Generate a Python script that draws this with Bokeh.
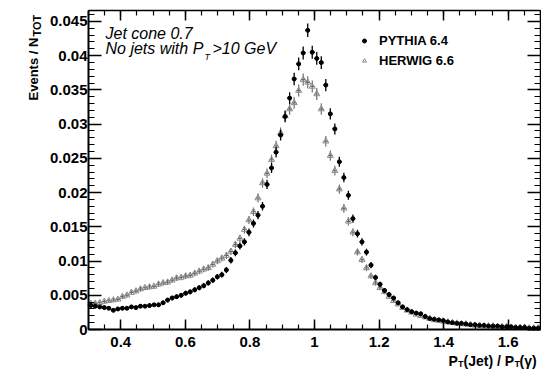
import numpy as np
from bokeh.plotting import figure
from bokeh.models import (ColumnDataSource, FixedTicker, LinearAxis, Range1d, Label,
                          Legend, LegendItem, CustomJSTickFormatter)
from bokeh.embed import file_html
from bokeh.resources import INLINE

# ---------------- data ----------------
HIST_LO, HIST_HI = 0.3, 1.7          # histogram range, 100 bins
PYTHIA = [
    0.0035, 0.0034, 0.0033, 0.0032, 0.0031, 0.0028, 0.0030, 0.0031, 0.0031, 0.0033,
    0.0032, 0.0034, 0.0034, 0.0035, 0.0036, 0.0036, 0.0039, 0.0043, 0.0046, 0.0048,
    0.0050, 0.0053, 0.0055, 0.0058, 0.0061, 0.0064, 0.0068, 0.0072, 0.0077, 0.0080,
    0.0087, 0.0101, 0.0112, 0.0122, 0.0128, 0.0142, 0.0155, 0.0167, 0.0180, 0.0212,
    0.0236, 0.0259, 0.0284, 0.0311, 0.0338, 0.0366, 0.0388, 0.0404, 0.0437, 0.0405,
    0.0396, 0.0390, 0.0357, 0.0315, 0.0293, 0.0245, 0.0222, 0.0196, 0.0162, 0.0140,
    0.0128, 0.0113, 0.0094, 0.0076, 0.0066, 0.0057, 0.0051, 0.0046, 0.0039, 0.0033,
    0.0029, 0.0026, 0.0024, 0.0023, 0.0019, 0.0016, 0.0015, 0.0014, 0.0013, 0.0011,
    0.0010, 0.0009, 0.0009, 0.0008, 0.0007, 0.0007, 0.0006, 0.0006, 0.0005, 0.0005,
    0.0005, 0.0004, 0.0004, 0.0004, 0.0003, 0.0003, 0.0003, 0.0002, 0.0002, 0.0002,
]
HERWIG = [
    0.0038, 0.0038, 0.0039, 0.0041, 0.0042, 0.0043, 0.0044, 0.0048, 0.0050, 0.0054,
    0.0056, 0.0059, 0.0061, 0.0062, 0.0063, 0.0066, 0.0068, 0.0069, 0.0072, 0.0075,
    0.0076, 0.0078, 0.0079, 0.0082, 0.0085, 0.0088, 0.0090, 0.0095, 0.0100, 0.0104,
    0.0108, 0.0114, 0.0124, 0.0133, 0.0146, 0.0160, 0.0172, 0.0192, 0.0214, 0.0228,
    0.0248, 0.0268, 0.0287, 0.0312, 0.0322, 0.0331, 0.0349, 0.0365, 0.0361, 0.0355,
    0.0344, 0.0322, 0.0275, 0.0254, 0.0232, 0.0205, 0.0177, 0.0158, 0.0142, 0.0113,
    0.0102, 0.0090, 0.0078, 0.0068, 0.0061, 0.0055, 0.0048, 0.0042, 0.0037, 0.0032,
    0.0028, 0.0025, 0.0022, 0.0020, 0.0018, 0.0016, 0.0014, 0.0013, 0.0012, 0.0011,
    0.0010, 0.0009, 0.0008, 0.0008, 0.0007, 0.0006, 0.0006, 0.0005, 0.0005, 0.0005,
    0.0004, 0.0004, 0.0004, 0.0003, 0.0003, 0.0003, 0.0003, 0.0002, 0.0002, 0.0002,
]
N_EVENTS_PYTHIA = 45000   # effective statistics for the Poisson error bars
N_EVENTS_HERWIG = 45000
SERIES_NAMES = ["PYTHIA 6.4", "HERWIG 6.6"]
X_TICKS = [0.4, 0.6, 0.8, 1.0, 1.2, 1.4, 1.6]
Y_TICKS = [0, 0.005, 0.01, 0.015, 0.02, 0.025, 0.03, 0.035, 0.04, 0.045]
Y_MAX = 0.0466

# ---------------- layout constants (pixels) ----------------
W, H = 541, 371
BOX_L, BOX_R, BOX_T, BOX_B = 88, 540, 10, 329   # where the axes box sits

kx = (BOX_R - BOX_L) / (HIST_HI - HIST_LO)
ky = (BOX_B - BOX_T) / Y_MAX
x_range = Range1d(HIST_LO - BOX_L / kx, HIST_HI + (W - BOX_R) / kx)
y_range = Range1d(-(H - BOX_B) / ky, Y_MAX + BOX_T / ky)

# ---------------- derived columns ----------------
edges = np.linspace(HIST_LO, HIST_HI, len(PYTHIA) + 1)
centers = 0.5 * (edges[:-1] + edges[1:])


def make_source(vals, n_events):
    y = np.array(vals)
    err = np.sqrt(y / n_events)
    return ColumnDataSource(dict(x=centers, y=y, lo=y - err, hi=y + err,
                                 xl=edges[:-1], xr=edges[1:]))


src_p = make_source(PYTHIA, N_EVENTS_PYTHIA)
src_h = make_source(HERWIG, N_EVENTS_HERWIG)

FONT = "Liberation Sans"

p = figure(width=W, height=H, x_range=x_range, y_range=y_range,
           output_backend="svg", toolbar_location=None,
           x_axis_location=None, y_axis_location=None,
           min_border_left=0, min_border_right=0, min_border_top=0, min_border_bottom=0)
p.xgrid.visible = False
p.ygrid.visible = False
p.outline_line_color = None
p.background_fill_color = "white"
p.border_fill_color = "white"

fmt = CustomJSTickFormatter(code="return parseFloat(tick.toFixed(4)).toString();")
blank = CustomJSTickFormatter(code="return '';")
x_minor = [round(v, 3) for v in np.arange(HIST_LO, HIST_HI + 1e-9, 0.05)]
y_minor = [round(v, 4) for v in np.arange(0, Y_MAX, 0.001)]


def make_axis(ticks, minor, tick_len, loc, bounds, show_labels, line_w, standoff=2):
    ax = LinearAxis(fixed_location=loc, bounds=bounds)
    ax.ticker = FixedTicker(ticks=ticks, minor_ticks=minor)
    ax.major_tick_in = tick_len
    ax.major_tick_out = 0
    ax.minor_tick_in = tick_len // 2
    ax.minor_tick_out = 0
    ax.axis_line_width = line_w
    ax.axis_line_color = "black"
    ax.major_tick_line_width = 1.5
    ax.minor_tick_line_width = 1.2
    ax.major_tick_line_color = "black"
    ax.minor_tick_line_color = "black"
    ax.axis_label = None
    if show_labels:
        ax.formatter = fmt
        ax.major_label_text_font = FONT
        ax.major_label_text_font_size = "15px"
        ax.major_label_text_font_style = "bold"
        ax.major_label_text_color = "black"
        ax.major_label_standoff = standoff
    else:
        ax.formatter = blank
    return ax


p.add_layout(make_axis(X_TICKS, x_minor, 10, 0, (HIST_LO, HIST_HI), True, 2, 7), "below")
p.add_layout(make_axis(Y_TICKS, y_minor, 13, HIST_LO, (0, Y_MAX), True, 2, 1), "left")
p.add_layout(make_axis(X_TICKS, x_minor, 10, Y_MAX, (HIST_LO, HIST_HI), False, 1.5), "above")
p.add_layout(make_axis(Y_TICKS, y_minor, 13, HIST_HI, (0, Y_MAX), False, 1.5), "right")

# ---------------- data marks ----------------
p.segment(x0="x", y0="lo", x1="x", y1="hi", source=src_h, line_color="#666666", line_width=1.1)
p.segment(x0="xl", y0="y", x1="xr", y1="y", source=src_h, line_color="#666666", line_width=1.1)
r_h = p.scatter(x="x", y="y", source=src_h, marker="triangle", size=6,
                fill_color="white", fill_alpha=0.0, line_color="#8a8a8a", line_width=1)

p.segment(x0="x", y0="lo", x1="x", y1="hi", source=src_p, line_color="black", line_width=1.3)
p.segment(x0="xl", y0="y", x1="xr", y1="y", source=src_p, line_color="black", line_width=1.3)
r_p = p.scatter(x="x", y="y", source=src_p, marker="circle", size=4,
                fill_color="black", line_color="black")

legend = Legend(items=[LegendItem(label=SERIES_NAMES[0], renderers=[r_p]),
                       LegendItem(label=SERIES_NAMES[1], renderers=[r_h])],
                location=(359, 303), orientation="vertical", margin=0, padding=0,
                spacing=5, glyph_width=10, glyph_height=13, label_height=13,
                label_standoff=10, background_fill_alpha=0, border_line_alpha=0,
                label_text_font=FONT, label_text_font_size="13px",
                label_text_font_style="bold", label_text_color="black")
p.add_layout(legend)


# ---------------- texts (pixel positions; y measured from the top) ----------------
def lab(text, px, py, size, style="normal", angle=0.0):
    p.add_layout(Label(x=px, y=H - py, x_units="screen", y_units="screen", text=text,
                       text_font=FONT, text_font_size=size, text_font_style=style,
                       text_color="black", angle=angle, text_align="left",
                       text_baseline="alphabetic"))


lab("Jet cone 0.7", 105, 33, "16px", "italic")
lab("No jets with P", 105, 48, "16px", "italic")
lab("T", 204, 56, "9px", "italic")
lab(">10 GeV", 212, 48, "16px", "italic")

# y-axis title (rotated), aligned to the top of the axis
lab("Events / N", 33, 100, "13px", "bold", angle=np.pi / 2)
lab("TOT", 36, 36, "11px", "bold", angle=np.pi / 2)

# x-axis title, aligned to the right end of the axis
lab("P", 448, 360, "14px", "bold")
lab("T", 457.5, 363, "9px", "bold")
lab("(Jet) / P", 463, 360, "14px", "bold")
lab("T", 514, 363, "9px", "bold")
lab("(\u03b3)", 519, 360, "14px", "bold")

open("out.html", "w").write(file_html(p, INLINE))
